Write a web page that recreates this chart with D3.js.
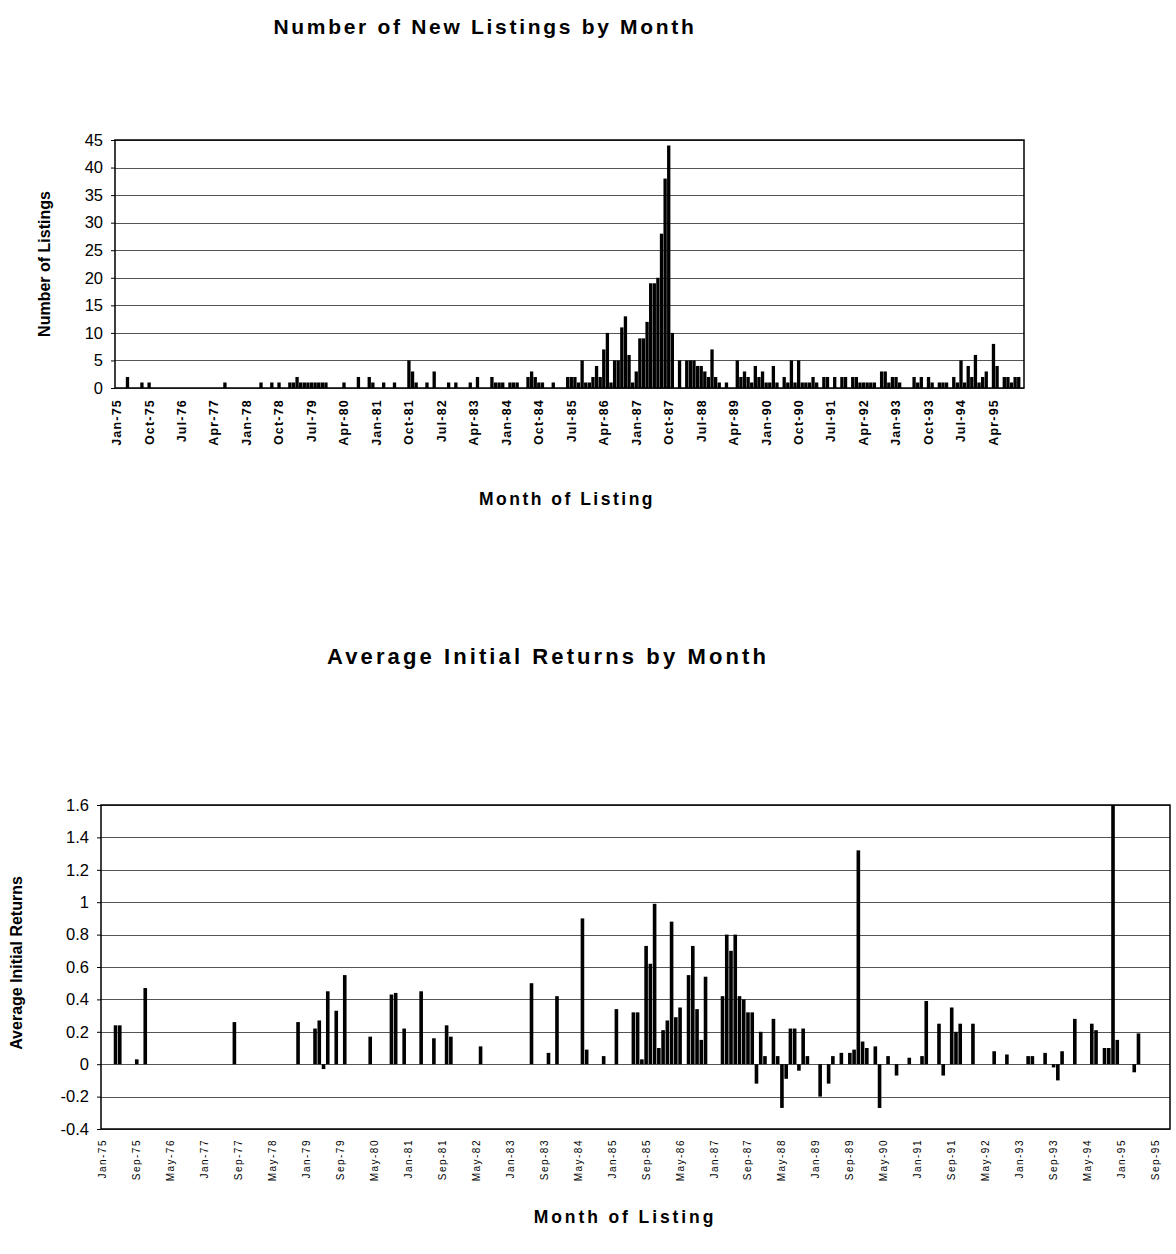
<!DOCTYPE html>
<html>
<head>
<meta charset="utf-8">
<script src="https://cdn.jsdelivr.net/npm/d3@7"></script>
<style>
  body { margin: 0; background: #fff; }
  text { font-family: "Liberation Sans", Arial, sans-serif; fill: #000; }
</style>
</head>
<body>
<div id="chart"></div>
<script>
// months Jan-75 .. Dec-95, one value per month
const months = d3.timeMonth.range(new Date(1975, 0, 1), new Date(1996, 0, 1));

// number of new listings per month (one row per year)
const listings = [
  0,0,0,2,0,0,0,1,0,1,0,0,          // 1975
  0,0,0,0,0,0,0,0,0,0,0,0,          // 1976
  0,0,0,0,0,0,1,0,0,0,0,0,          // 1977
  0,0,0,0,1,0,0,1,0,1,0,0,          // 1978
  1,1,2,1,1,1,1,1,1,1,1,0,          // 1979
  0,0,0,1,0,0,0,2,0,0,2,1,          // 1980
  0,0,1,0,0,1,0,0,0,5,3,1,          // 1981
  0,0,1,0,3,0,0,0,1,0,1,0,          // 1982
  0,0,1,0,2,0,0,0,2,1,1,1,          // 1983
  0,1,1,1,0,0,2,3,2,1,1,0,          // 1984
  0,1,0,0,0,2,2,2,1,5,1,1,          // 1985
  2,4,2,7,10,1,5,5,11,13,6,1,       // 1986
  3,9,9,12,19,19,20,28,38,44,10,0,  // 1987
  5,0,5,5,5,4,4,3,2,7,2,1,          // 1988
  0,1,0,0,5,2,3,2,1,4,2,3,          // 1989
  1,1,4,1,0,2,1,5,1,5,1,1,          // 1990
  1,2,1,0,2,2,0,2,0,2,2,0,          // 1991
  2,2,1,1,1,1,1,0,3,3,1,2,          // 1992
  2,1,0,0,0,2,1,2,0,2,1,0,          // 1993
  1,1,1,0,2,1,5,1,4,2,6,1,          // 1994
  2,3,0,8,4,0,2,2,1,2,2,0           // 1995
];

// average initial return per month, null = no listings that month
const n = null;
const avgReturns = [
  n,n,n,0.24,0.24,n,n,n,0.03,n,0.47,n,                    // 1975
  n,n,n,n,n,n,n,n,n,n,n,n,                                // 1976
  n,n,n,n,n,n,n,0.26,n,n,n,n,                             // 1977
  n,n,n,n,n,n,n,n,n,n,0.26,n,                             // 1978
  n,n,0.22,0.27,-0.03,0.45,n,0.33,n,0.55,n,n,             // 1979
  n,n,n,0.17,n,n,n,n,0.43,0.44,n,0.22,                    // 1980
  n,n,n,0.45,n,n,0.16,n,n,0.24,0.17,n,                    // 1981
  n,n,n,n,n,0.11,n,n,n,n,n,n,                             // 1982
  n,n,n,n,n,0.50,n,n,n,0.07,n,0.42,                       // 1983
  n,n,n,n,n,0.90,0.09,n,n,n,0.05,n,                       // 1984
  n,0.34,n,n,n,0.32,0.32,0.03,0.73,0.62,0.99,0.10,        // 1985
  0.21,0.27,0.88,0.29,0.35,n,0.55,0.73,0.34,0.15,0.54,n,  // 1986
  n,n,0.42,0.80,0.70,0.80,0.42,0.40,0.32,0.32,-0.12,0.20, // 1987
  0.05,n,0.28,0.05,-0.27,-0.09,0.22,0.22,-0.04,0.22,0.05,n, // 1988
  n,-0.20,n,-0.12,0.05,n,0.07,n,0.07,0.09,1.32,0.14,      // 1989
  0.10,n,0.11,-0.27,n,0.05,n,-0.07,n,n,0.04,n,            // 1990
  n,0.05,0.39,n,n,0.25,-0.07,n,0.35,0.20,0.25,n,          // 1991
  n,0.25,n,n,n,n,0.08,n,n,0.06,n,n,                       // 1992
  n,n,0.05,0.05,n,n,0.07,n,-0.02,-0.10,0.08,n,            // 1993
  n,0.28,n,n,n,0.25,0.21,n,0.10,0.10,1.75,0.15,           // 1994
  n,n,n,-0.05,0.19,n,n,n,n,n,n,n                          // 1995
];

const listingTicks = [0, 5, 10, 15, 20, 25, 30, 35, 40, 45];
const returnTicks = [-0.4, -0.2, 0, 0.2, 0.4, 0.6, 0.8, 1, 1.2, 1.4, 1.6];

const fmtMonth = d3.timeFormat("%b-%y");
const FONT = '"Liberation Sans", Arial, sans-serif';

const svg = d3.select("#chart").append("svg")
  .attr("width", 1176)
  .attr("height", 1254)
  .attr("viewBox", "0 0 1176 1254");

svg.append("rect").attr("width", 1176).attr("height", 1254).attr("fill", "#fff");

const barChart = (g, opts) => {
  const {box, values, yDomain, yTicks, labelEvery, yFmt} = opts;

  const x = d3.scaleBand()
    .domain(d3.range(months.length))
    .range([box.left, box.right])
    .paddingInner(opts.pad);

  const y = d3.scaleLinear()
    .domain(yDomain)
    .range([box.bottom, box.top])
    .clamp(true);

  // gridlines
  g.append("g")
    .selectAll("line")
    .data(yTicks)
    .join("line")
      .attr("x1", box.left)
      .attr("x2", box.right)
      .attr("y1", d => Math.round(y(d)) + 0.5)
      .attr("y2", d => Math.round(y(d)) + 0.5)
      .attr("stroke", "#555")
      .attr("stroke-width", 1);

  // bars
  const data = values.map((v, i) => ({i, v})).filter(d => d.v !== null && d.v !== 0);
  g.append("g")
    .selectAll("rect")
    .data(data)
    .join("rect")
      .attr("x", d => x(d.i))
      .attr("width", x.bandwidth())
      .attr("y", d => y(Math.max(0, d.v)))
      .attr("height", d => Math.abs(y(d.v) - y(0)))
      .attr("fill", "#000");

  // frame
  g.append("rect")
    .attr("x", box.left)
    .attr("y", box.top)
    .attr("width", box.right - box.left)
    .attr("height", box.bottom - box.top)
    .attr("fill", "none")
    .attr("stroke", "#000")
    .attr("stroke-width", 1.5);

  // y axis
  g.append("g")
    .attr("transform", `translate(${box.left},0)`)
    .call(d3.axisLeft(y).tickValues(yTicks).tickSize(4).tickPadding(8).tickFormat(yFmt))
    .call(a => a.select(".domain").remove())
    .call(a => a.selectAll("line").attr("stroke", "#000"))
    .selectAll("text")
      .style("font-family", FONT)
      .style("font-size", "16.5px")
      .attr("fill", "#000");

  // x axis labels (rotated)
  const lab = opts.xLabels;
  const labelIdx = d3.range(0, months.length, labelEvery);
  g.append("g")
    .selectAll("text")
    .data(labelIdx)
    .join("text")
      .attr("transform", i => `translate(${x(i) + x.bandwidth() / 2 + lab.size * 0.35},${box.bottom + lab.gap}) rotate(-90)`)
      .style("text-anchor", "end")
      .style("font-family", FONT)
      .style("font-size", lab.size + "px")
      .style("font-weight", lab.weight)
      .style("letter-spacing", lab.spacing + "px")
      .text(i => fmtMonth(months[i]));

  // titles
  const t = opts.title;
  g.append("text")
    .attr("x", t.x)
    .attr("y", t.y)
    .style("text-anchor", "middle")
    .style("font-weight", "bold")
    .style("font-size", t.size + "px")
    .style("letter-spacing", t.spacing + "px")
    .text(t.text);

  g.append("text")
    .attr("x", opts.xTitle.x)
    .attr("y", opts.xTitle.y)
    .style("text-anchor", "middle")
    .style("font-weight", "bold")
    .style("font-size", "17.5px")
    .style("letter-spacing", opts.xTitle.spacing + "px")
    .text("Month of Listing");

  g.append("text")
    .attr("transform", `translate(${opts.yTitle.x},${opts.yTitle.y}) rotate(-90)`)
    .style("text-anchor", "middle")
    .style("font-weight", "bold")
    .style("font-size", "16px")
    .text(opts.yTitle.text);
};

barChart(svg.append("g"), {
  box: {left: 115, right: 1024, top: 140, bottom: 388},
  values: listings,
  yDomain: [0, 45],
  yTicks: listingTicks,
  yFmt: d3.format("d"),
  labelEvery: 9,
  xLabels: {size: 12.5, weight: "bold", spacing: 1.2, gap: 11},
  pad: 0.08,
  title: {x: 485, y: 34, size: 21, spacing: 2.7, text: "Number of New Listings by Month"},
  xTitle: {x: 567, y: 505, spacing: 2.5},
  yTitle: {x: 50, y: 264, text: "Number of Listings"}
});

barChart(svg.append("g"), {
  box: {left: 101, right: 1170, top: 805, bottom: 1129},
  values: avgReturns,
  yDomain: [-0.4, 1.6],
  yTicks: returnTicks,
  yFmt: d => String(+d.toFixed(1)),
  labelEvery: 8,
  xLabels: {size: 10, weight: "normal", spacing: 1.5, gap: 10},
  pad: 0.15,
  title: {x: 548, y: 664, size: 22, spacing: 3.1, text: "Average Initial Returns by Month"},
  xTitle: {x: 625, y: 1223, spacing: 2.9},
  yTitle: {x: 22, y: 963, text: "Average Initial Returns"}
});
</script>
</body>
</html>
